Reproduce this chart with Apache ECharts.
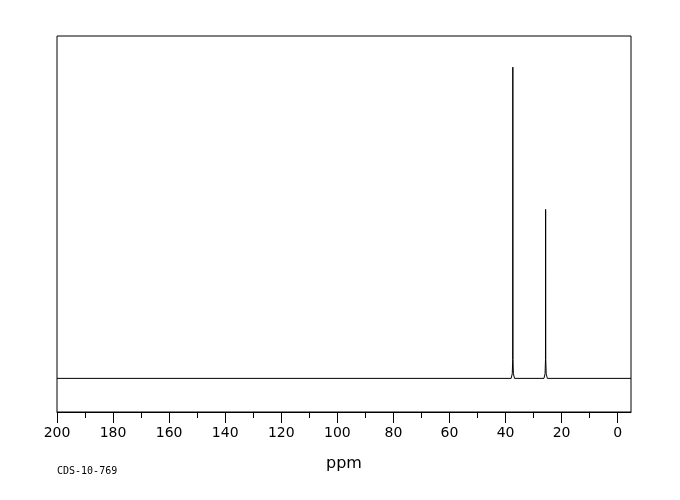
<!DOCTYPE html>
<html>
<head>
<meta charset="utf-8">
<script src="https://cdn.jsdelivr.net/npm/echarts@6/dist/echarts.min.js"></script>
<style>
  html, body { margin: 0; padding: 0; background: #fff; }
  #chart { width: 680px; height: 500px; }
</style>
</head>
<body>
<div id="chart"></div>
<script>
// ppm positions, largest first (axis runs right to left)
var tracePpm = [200, 38.0, 37.6, 37.45, 37.4, 37.35, 37.2, 36.8, 26.3, 25.9, 25.75, 25.7, 25.65, 25.5, 25.1, -4.75];
var traceInt = [0,   0,    1.5,  6,     100,  6,     1.5,  0,    0,    1.5,  6,     54.3, 6,     1.5,  0,    0];

var majorTicks = [0, 20, 40, 60, 80, 100, 120, 140, 160, 180, 200];
var minorTicks = [10, 30, 50, 70, 90, 110, 130, 150, 170, 190];

var traceData = tracePpm.map(function (p, i) { return [p, traceInt[i]]; });

var myChart = echarts.init(document.getElementById('chart'));

var option = {
    animation: false,
    backgroundColor: '#fff',
    grid: {
        left: 57, right: 49, top: 36, bottom: 88,
        show: true, borderColor: '#000', borderWidth: 1
    },
    xAxis: [{
        type: 'value',
        inverse: true,
        min: -4.75, max: 200,
        name: 'ppm',
        nameLocation: 'middle',
        nameGap: 44,
        nameTextStyle: { fontFamily: 'DejaVu Sans', fontSize: 16, color: '#000' },
        axisLine: { show: true, onZero: false, lineStyle: { color: '#000', width: 1 } },
        axisTick: { show: true, length: 11, customValues: majorTicks, lineStyle: { color: '#000' } },
        axisLabel: { customValues: majorTicks, margin: 14, fontFamily: 'DejaVu Sans', fontSize: 14, color: '#000' },
        splitLine: { show: false }
    }, {
        type: 'value',
        inverse: true,
        position: 'bottom',
        offset: 0,
        min: -4.75, max: 200,
        axisLine: { show: false, onZero: false },
        axisTick: { show: true, length: 6, customValues: minorTicks, lineStyle: { color: '#000' } },
        axisLabel: { show: false },
        splitLine: { show: false }
    }],
    yAxis: {
        type: 'value',
        min: -10.8, max: 110,
        show: false
    },
    graphic: [{
        type: 'text',
        left: 57, top: 466,
        style: { text: 'CDS-10-769', fontFamily: 'DejaVu Sans Mono', fontSize: 10, fill: '#000' }
    }],
    series: [{
        type: 'line',
        xAxisIndex: 0,
        data: traceData,
        symbol: 'none',
        lineStyle: { color: '#000', width: 1 }
    }]
};

myChart.setOption(option);
</script>
</body>
</html>
